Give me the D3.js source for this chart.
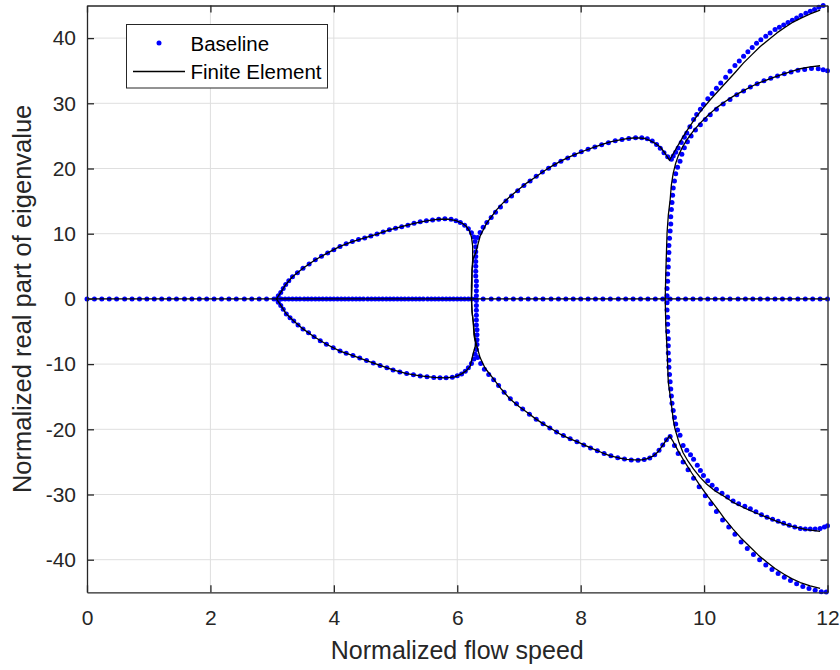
<!DOCTYPE html>
<html>
<head>
<meta charset="utf-8">
<script src="https://cdn.jsdelivr.net/npm/d3@7"></script>
<style>
body{margin:0;background:#fff;}
text{font-family:"Liberation Sans",Arial,Helvetica,sans-serif;}
</style>
</head>
<body>
<div id="chart"></div>
<script>

///////////////////////////////////////////////////////////////////////
// axis ticks

let xTicks = [0, 2, 4, 6, 8, 10, 12];
let yTicks = [-40, -30, -20, -10, 0, 10, 20, 30, 40];

///////////////////////////////////////////////////////////////////////
// Baseline (blue dots)

// dots lying on the zero line
let baseZeroX = [0,0.12,0.24,0.36,0.48,0.61,0.73,0.85,0.97,1.09,1.21,1.33,1.45,1.58,1.70,1.82,1.94,2.06,2.18,2.30,
  2.42,2.55,2.67,2.79,2.91,3.03,3.15,3.27,3.39,3.52,3.64,3.76,3.88,4.00,4.12,4.24,4.36,4.48,4.61,4.73,
  4.85,4.97,5.09,5.21,5.33,5.45,5.58,5.70,5.82,5.94,6.06,6.18,6.30,6.42,6.55,6.67,6.79,6.91,7.03,7.15,
  7.27,7.39,7.52,7.64,7.76,7.88,8.00,8.12,8.24,8.36,8.48,8.61,8.73,8.85,8.97,9.09,9.21,9.33,9.45,9.58,
  9.70,9.82,9.94,10.06,10.18,10.30,10.42,10.55,10.67,10.79,10.91,11.03,11.15,11.27,11.39,11.52,11.64,11.76,11.88,12.00];
let baseZeroX2 = [3.21,3.33,3.45,3.58,3.70,3.82,3.94,4.06,4.18,4.30,4.42,4.55,4.67,4.79,4.91,5.03,5.15,5.27,5.39,5.52,
  5.64,5.76,5.88,6.00,6.12,6.24];

let baseLoopUp = [[3.07,0],[3.10,0.5],[3.14,1.0],[3.18,1.6],[3.22,2.2],[3.27,2.8],[3.33,3.4],[3.41,4.0],[3.50,4.7],
  [3.60,5.35],[3.70,6.0],[3.80,6.55],[3.90,7.05],[4.00,7.55],[4.10,8.05],[4.20,8.45],[4.30,8.8],[4.40,9.1],
  [4.50,9.35],[4.60,9.65],[4.70,9.95],[4.80,10.25],[4.90,10.6],[5.00,10.85],[5.10,11.08],[5.20,11.3],[5.30,11.6],
  [5.40,11.82],[5.50,11.98],[5.60,12.1],[5.70,12.22],[5.80,12.28],[5.90,12.22],[5.98,12.0],[6.05,11.7],[6.12,11.3],
  [6.18,10.75],[6.23,10.15],[6.27,9.5]];

let baseLoopDown = [[3.10,-0.5],[3.14,-1.0],[3.18,-1.6],[3.23,-2.3],[3.29,-2.9],[3.35,-3.4],[3.42,-4.0],[3.50,-4.6],
  [3.59,-5.2],[3.68,-5.8],[3.78,-6.4],[3.88,-6.95],[3.99,-7.5],[4.10,-8.0],[4.20,-8.35],[4.31,-8.7],[4.42,-9.05],
  [4.53,-9.45],[4.64,-9.85],[4.75,-10.2],[4.86,-10.55],[4.96,-10.9],[5.07,-11.2],[5.18,-11.45],[5.29,-11.65],
  [5.40,-11.82],[5.51,-11.95],[5.62,-12.05],[5.72,-12.1],[5.82,-12.1],[5.92,-12.0],[6.00,-11.8],[6.07,-11.5],
  [6.13,-11.1],[6.18,-10.55],[6.23,-9.9],[6.27,-9.2]];

let baseColumn6 = [[6.29,8.8],[6.30,8.0],[6.30,7.25],[6.30,6.5],[6.30,5.75],[6.30,5.0],[6.30,4.25],[6.30,3.5],
  [6.31,2.75],[6.31,2.0],[6.31,1.25],[6.31,0.5],[6.31,-0.25],[6.31,-1.0],[6.31,-1.75],[6.31,-2.5],[6.31,-3.25],
  [6.31,-4.0],[6.32,-4.75],[6.32,-5.5],[6.32,-6.25],[6.32,-7.0],[6.31,-7.75],[6.29,-8.5]];

let baseSecondUp = [[6.33,9.4],[6.37,10.2],[6.42,11.0],[6.48,11.7],[6.55,12.5],[6.62,13.3],[6.70,14.1],[6.79,15.0],
  [6.88,15.8],[6.98,16.6],[7.08,17.4],[7.18,18.1],[7.28,18.8],[7.38,19.45],[7.48,20.05],[7.58,20.6],[7.68,21.1],
  [7.79,21.6],[7.90,22.1],[8.01,22.55],[8.12,22.95],[8.23,23.3],[8.34,23.65],[8.45,23.95],[8.56,24.25],[8.67,24.45],
  [8.78,24.6],[8.89,24.7],[8.99,24.7],[9.08,24.55],[9.16,24.2],[9.23,23.7],[9.29,23.1],[9.35,22.4],[9.41,21.8],[9.47,21.4]];

let baseSecondDown = [[6.33,-9.0],[6.38,-9.9],[6.44,-10.8],[6.51,-11.6],[6.59,-12.4],[6.67,-13.3],[6.76,-14.3],
  [6.86,-15.3],[6.96,-16.1],[7.06,-16.9],[7.17,-17.7],[7.28,-18.45],[7.39,-19.15],[7.50,-19.8],[7.61,-20.4],
  [7.72,-20.95],[7.83,-21.45],[7.94,-21.9],[8.05,-22.4],[8.16,-22.85],[8.27,-23.3],[8.38,-23.7],[8.49,-24.05],
  [8.60,-24.35],[8.71,-24.55],[8.82,-24.7],[8.93,-24.75],[9.03,-24.65],[9.12,-24.4],[9.20,-23.9],[9.27,-23.2],
  [9.33,-22.4],[9.39,-21.6],[9.45,-21.1]];

let baseColumn9 = [[9.40,-0.6],[9.40,-1.7],[9.41,-2.8],[9.41,-3.9],[9.41,-5.0],[9.42,-6.1],[9.42,-7.2],[9.42,-8.3],
  [9.43,-9.4],[9.43,-10.5],[9.44,-11.6],[9.45,-12.7],[9.46,-13.8],[9.47,-14.9],[9.48,-16.0],[9.50,-17.1],[9.52,-18.2],
  [9.54,-19.2],[9.57,-20.1],[9.61,-20.9],
  [9.40,0.5],[9.40,1.6],[9.41,2.7],[9.41,3.8],[9.42,4.9],[9.42,6.0],[9.43,7.1],[9.43,8.2],[9.44,9.3],[9.45,10.4],
  [9.46,11.5],[9.46,12.6],[9.47,13.7],[9.48,14.8],[9.49,15.9],[9.50,17.0],[9.52,18.1],[9.54,19.2],[9.57,20.2],[9.61,21.1]];

let baseTopUp = [[9.50,21.9],[9.54,22.5],[9.58,23.15],[9.63,24.0],[9.68,24.8],[9.72,25.45],[9.77,26.4],[9.83,27.5],
  [9.88,28.3],[9.94,29.1],[9.99,29.8],[10.06,30.7],[10.13,31.5],[10.20,32.3],[10.27,33.1],[10.35,34.0],[10.42,34.9],
  [10.50,35.8],[10.57,36.5],[10.64,37.2],[10.71,37.9],[10.78,38.55],[10.85,39.2],[10.92,39.75],[11.00,40.3],
  [11.07,40.8],[11.15,41.3],[11.22,41.65],[11.29,42.0],[11.36,42.4],[11.43,42.75],[11.50,43.1],[11.57,43.45],
  [11.65,43.8],[11.72,44.1],[11.79,44.4],[11.86,44.75],[11.93,45.0]];

let baseMidUp = [[9.64,22.2],[9.68,23.2],[9.73,24.1],[9.79,25.0],[9.86,25.9],[9.94,26.7],[10.02,27.5],[10.10,28.25],
  [10.20,29.1],[10.31,29.9],[10.42,30.6],[10.53,31.3],[10.64,31.9],[10.75,32.5],[10.86,33.0],[10.97,33.45],
  [11.08,33.85],[11.19,34.2],[11.30,34.55],[11.41,34.8],[11.52,35.05],[11.63,35.2],[11.74,35.35],[11.85,35.3],
  [11.93,35.15],[12.00,35.0]];

let baseMidDown = [[9.66,-22.5],[9.72,-23.2],[9.78,-23.9],[9.83,-24.6],[9.89,-25.5],[9.94,-26.3],[9.99,-27.1],
  [10.06,-27.9],[10.13,-28.6],[10.20,-29.2],[10.29,-29.8],[10.38,-30.4],[10.47,-31.0],[10.56,-31.4],[10.66,-31.8],
  [10.75,-32.2],[10.84,-32.65],[10.93,-33.1],[11.02,-33.5],[11.11,-33.8],[11.20,-34.1],[11.29,-34.4],[11.38,-34.7],
  [11.47,-35.0],[11.56,-35.2],[11.64,-35.3],[11.72,-35.3],[11.80,-35.3],[11.88,-35.2],[11.95,-35.0],[12.00,-34.8]];

let baseBottomDown = [[9.52,-22.5],[9.58,-23.7],[9.66,-25.0],[9.74,-26.2],[9.83,-27.5],[9.92,-28.8],[10.02,-30.2],
  [10.11,-31.4],[10.20,-32.6],[10.30,-33.9],[10.40,-35.0],[10.50,-36.1],[10.60,-37.3],[10.70,-38.3],[10.80,-39.2],
  [10.90,-40.0],[11.00,-40.8],[11.10,-41.5],[11.20,-42.1],[11.30,-42.7],[11.40,-43.2],[11.50,-43.7],[11.60,-44.1],
  [11.70,-44.4],[11.80,-44.7],[11.90,-44.9],[11.98,-44.95]];

///////////////////////////////////////////////////////////////////////
// Finite Element (black lines)

let feZero = [[0,0],[12,0]];

let feLoopUp = [[3.07,0],[3.14,1.0],[3.22,2.2],[3.33,3.4],[3.50,4.7],[3.70,6.0],[3.90,7.05],[4.10,8.05],[4.30,8.8],
  [4.50,9.35],[4.70,9.95],[4.90,10.6],[5.10,11.08],[5.30,11.6],[5.50,11.98],[5.70,12.22],[5.85,12.25],[5.98,12.0],
  [6.08,11.6],[6.15,11.1],[6.20,10.4],[6.23,9.5],[6.25,8.1],[6.25,6.0],[6.24,4.5],[6.23,2.0],[6.23,0],[6.24,-2.0],
  [6.26,-3.6],[6.28,-5.5],[6.31,-7.0],
  [6.37,-9.0],[6.45,-10.6],[6.59,-12.3],[6.72,-13.9],[6.86,-15.4],[7.00,-16.5],[7.13,-17.4],[7.27,-18.4],
  [7.40,-19.2],[7.54,-20.0],[7.67,-20.75],[7.80,-21.35],[7.94,-21.9],[8.08,-22.5],[8.21,-23.05],[8.35,-23.6],
  [8.48,-24.07],[8.62,-24.4],[8.75,-24.6],[8.87,-24.7],[8.99,-24.7],[9.08,-24.5],[9.18,-24.07],[9.26,-23.4],
  [9.34,-22.3],[9.40,-21.5],[9.44,-21.0],
  [9.50,-21.9],[9.58,-23.3],[9.66,-24.6],[9.80,-26.7],[9.94,-28.7],[10.07,-30.4],[10.20,-32.0],[10.33,-33.7],
  [10.47,-35.3],[10.61,-36.8],[10.75,-38.1],[10.88,-39.3],[11.02,-40.4],[11.15,-41.35],[11.29,-42.2],[11.42,-42.9],
  [11.56,-43.5],[11.72,-44.0],[11.88,-44.4]];

let feLoopDown = [[3.07,0],[3.14,-1.0],[3.23,-2.3],[3.35,-3.4],[3.50,-4.6],[3.68,-5.8],[3.88,-6.95],[4.10,-8.0],
  [4.31,-8.7],[4.53,-9.45],[4.75,-10.2],[4.96,-10.9],[5.18,-11.45],[5.40,-11.82],[5.62,-12.05],[5.82,-12.1],
  [5.96,-11.95],[6.07,-11.5],[6.15,-11.0],[6.21,-10.3],[6.26,-8.3],[6.30,-7.0],
  [6.27,-5.5],[6.26,-3.6],[6.24,-2.0],[6.23,0],[6.24,2.0],[6.24,4.5],[6.26,6.2],[6.30,7.1],
  [6.37,9.6],[6.48,11.67],[6.64,13.7],[6.75,14.8],[6.86,15.74],[7.00,16.8],[7.13,17.8],[7.27,18.7],[7.40,19.57],
  [7.54,20.4],[7.67,21.1],[7.80,21.7],[7.94,22.28],[8.08,22.8],[8.21,23.25],[8.35,23.7],[8.48,24.07],[8.62,24.35],
  [8.75,24.58],[8.85,24.68],[8.94,24.7],[9.04,24.6],[9.12,24.3],[9.20,23.9],[9.29,23.3],[9.37,22.3],[9.44,21.26],
  [9.55,23.1],[9.66,24.9],[9.77,26.5],[9.88,28.0],[9.99,29.3],[10.10,30.55],[10.24,32.0],[10.37,33.35],
  [10.51,34.8],[10.64,36.2],[10.78,37.5],[10.91,38.7],[11.05,39.8],[11.18,40.8],[11.32,41.7],[11.45,42.5],
  [11.58,43.1],[11.72,43.7],[11.88,44.3]];

let feMiddle = [[11.88,-35.65],[11.66,-35.4],[11.39,-34.8],[11.20,-34.2],[11.02,-33.5],[10.83,-32.8],[10.64,-32.0],
  [10.47,-31.2],[10.31,-30.2],[10.17,-29.4],[10.04,-28.4],[9.93,-27.3],[9.83,-26.1],[9.74,-24.9],[9.66,-23.6],
  [9.59,-21.9],[9.53,-20.0],[9.50,-18.5],[9.48,-16.9],[9.45,-14.8],[9.42,-12.8],[9.41,-10.2],[9.40,-7.7],
  [9.38,-4.0],[9.37,0],[9.38,4.0],[9.40,10.1],[9.42,12.8],[9.45,15.2],[9.47,17.5],[9.50,19.3],[9.54,20.8],
  [9.58,21.9],[9.65,23.3],[9.72,24.4],[9.83,25.8],[9.94,27.0],[10.07,28.2],[10.20,29.3],[10.33,30.2],[10.47,31.06],
  [10.61,31.8],[10.75,32.5],[10.88,33.1],[11.02,33.6],[11.15,34.05],[11.29,34.5],[11.42,34.9],[11.56,35.3],
  [11.72,35.6],[11.88,35.76]];

let legendNames = ["Baseline", "Finite Element"];

///////////////////////////////////////////////////////////////////////

let width = 840, height = 670;
let box = {left: 87, right: 827.5, top: 5.5, bottom: 592.3};
let textColor = "#262626";

let x = d3.scaleLinear().domain([0, 12]).range([box.left, box.right]);
let y = d3.scaleLinear().domain([-45, 45]).range([box.bottom, box.top]);

let svg = d3.select("#chart")
            .append("svg")
            .attr("width", width)
            .attr("height", height);

// grid
svg.append("g")
   .selectAll("line")
   .data(xTicks.slice(1, -1))
   .join("line")
   .attr("x1", d => x(d)).attr("x2", d => x(d))
   .attr("y1", box.top).attr("y2", box.bottom)
   .attr("stroke", "#dfdfdf").attr("stroke-width", 1);

svg.append("g")
   .selectAll("line")
   .data(yTicks)
   .join("line")
   .attr("x1", box.left).attr("x2", box.right)
   .attr("y1", d => y(d)).attr("y2", d => y(d))
   .attr("stroke", "#dfdfdf").attr("stroke-width", 1);

///////////////////////////////////////////////////////////////////////
// baseline dots

let baseDots = [].concat(
    baseZeroX.map(v => [v, 0]),
    baseZeroX2.map(v => [v, 0]),
    baseLoopUp, baseLoopDown, baseColumn6,
    baseSecondUp, baseSecondDown, baseColumn9,
    baseTopUp, baseMidUp, baseMidDown, baseBottomDown
);

svg.append("g")
   .selectAll("circle")
   .data(baseDots)
   .join("circle")
   .attr("cx", d => x(d[0]))
   .attr("cy", d => y(d[1]))
   .attr("r", 2.5)
   .attr("fill", "#0000ff");

// finite element lines
let line = d3.line().x(d => x(d[0])).y(d => y(d[1]));

svg.append("g")
   .selectAll("path")
   .data([feZero, feLoopUp, feLoopDown, feMiddle])
   .join("path")
   .attr("d", line)
   .attr("fill", "none")
   .attr("stroke", "#000")
   .attr("stroke-width", 1.3)
   .attr("stroke-linejoin", "round");

///////////////////////////////////////////////////////////////////////
// axes (ticks inside, box on)

let fontTick = 21;

let axB = svg.append("g")
   .attr("transform", `translate(0,${box.bottom})`)
   .call(d3.axisBottom(x).tickValues(xTicks).tickSizeInner(-7).tickSizeOuter(0).tickPadding(18));
let axL = svg.append("g")
   .attr("transform", `translate(${box.left},0)`)
   .call(d3.axisLeft(y).tickValues(yTicks).tickSizeInner(-7).tickSizeOuter(0).tickPadding(11));
let axT = svg.append("g")
   .attr("transform", `translate(0,${box.top})`)
   .call(d3.axisTop(x).tickValues(xTicks).tickSizeInner(-7).tickSizeOuter(0).tickFormat(""));
let axR = svg.append("g")
   .attr("transform", `translate(${box.right},0)`)
   .call(d3.axisRight(y).tickValues(yTicks).tickSizeInner(-7).tickSizeOuter(0).tickFormat(""));

[axB, axL, axT, axR].forEach(g => {
    g.select(".domain").attr("stroke", textColor).attr("stroke-width", 1.3);
    g.selectAll(".tick line").attr("stroke", textColor).attr("stroke-width", 1.3);
    g.selectAll(".tick text")
     .attr("fill", textColor)
     .attr("font-size", fontTick)
     .attr("font-family", '"Liberation Sans", Arial, sans-serif');
});
axL.selectAll(".tick text").text(d => String(d).replace("\u2212", "-"));

// axis labels
svg.append("text")
   .attr("x", (box.left + box.right) / 2)
   .attr("y", 659)
   .attr("text-anchor", "middle")
   .attr("font-size", 25)
   .attr("fill", textColor)
   .text("Normalized flow speed");

svg.append("text")
   .attr("transform", `translate(31,${(box.top + box.bottom) / 2}) rotate(-90)`)
   .attr("text-anchor", "middle")
   .attr("font-size", 25.5)
   .attr("fill", textColor)
   .text("Normalized real part of eigenvalue");

///////////////////////////////////////////////////////////////////////
// legend

let legend = svg.append("g");
legend.append("rect")
      .attr("x", 126.5).attr("y", 24.5)
      .attr("width", 201).attr("height", 63.5)
      .attr("fill", "#fff")
      .attr("stroke", textColor)
      .attr("stroke-width", 1);
legend.append("circle")
      .attr("cx", 159).attr("cy", 43)
      .attr("r", 2.5)
      .attr("fill", "#0000ff");
legend.append("line")
      .attr("x1", 133).attr("x2", 185)
      .attr("y1", 71.5).attr("y2", 71.5)
      .attr("stroke", "#000").attr("stroke-width", 1.3);
legend.selectAll("text.lg")
      .data(legendNames)
      .join("text")
      .attr("class", "lg")
      .attr("x", 190.5)
      .attr("y", (d, i) => i == 0 ? 50.7 : 79.3)
      .attr("font-size", 20.5)
      .attr("fill", "#000")
      .text(d => d);

</script>
</body>
</html>
